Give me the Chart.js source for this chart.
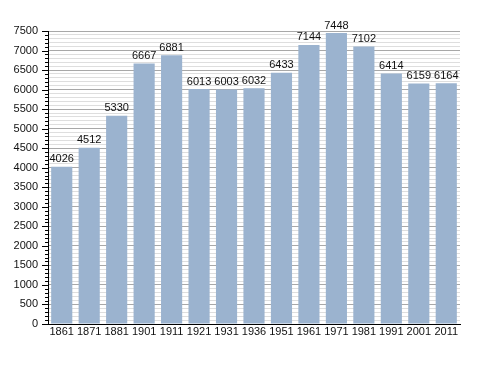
<!DOCTYPE html>
<html><head><meta charset="utf-8">
<script src="https://cdn.jsdelivr.net/npm/chart.js@4/dist/chart.umd.min.js"></script>
<style>html,body{margin:0;padding:0;background:#fff}#wrap{width:488px;height:373px}</style>
</head><body><div id="wrap"><canvas id="c" width="488" height="373"></canvas></div>
<script>
const years = ["1861","1871","1881","1901","1911","1921","1931","1936","1951","1961","1971","1981","1991","2001","2011"];
const population = [4026,4512,5330,6667,6881,6013,6003,6032,6433,7144,7448,7102,6414,6159,6164];
const yMin = 0, yMax = 7500, yMajorStep = 500, yMinorStep = 100;

const FONT = "'Liberation Sans', Arial, sans-serif";

const minorTicks = {
  id: 'minorTicks',
  afterDraw(chart) {
    const s = chart.scales.y, ctx = chart.ctx;
    ctx.save();
    ctx.strokeStyle = '#000'; ctx.lineWidth = 1;
    for (let v = yMin; v <= yMax; v += yMinorStep) {
      const y = Math.round(s.getPixelForValue(v)) + 0.5;
      const len = (v % yMajorStep === 0) ? 6 : 3;
      ctx.beginPath(); ctx.moveTo(s.right - len, y); ctx.lineTo(s.right, y); ctx.stroke();
    }
    ctx.restore();
  }
};

const barLabels = {
  id: 'barLabels',
  afterDatasetsDraw(chart) {
    const ctx = chart.ctx, meta = chart.getDatasetMeta(0);
    ctx.save();
    ctx.font = "11px " + FONT; ctx.fillStyle = '#111';
    ctx.textAlign = 'center'; ctx.textBaseline = 'bottom';
    meta.data.forEach((el, i) => {
      ctx.fillText(String(population[i]), el.x, el.y - 2);
    });
    ctx.restore();
  }
};

new Chart(document.getElementById('c'), {
  type: 'bar',
  data: { labels: years, datasets: [{ data: population, backgroundColor: '#9bb3cf', borderWidth: 0,
    barPercentage: 0.77, categoryPercentage: 1 }] },
  options: {
    responsive: false, animation: false,
    layout: { padding: { top: 31, right: 28, bottom: 29, left: 0 } },
    plugins: { legend: { display: false }, tooltip: { enabled: false } },
    scales: {
      x: {
        grid: { display: false, drawTicks: false, tickLength: 0 },
        border: { display: true, color: '#000', width: 1 },
        ticks: { color: '#111', font: { family: FONT, size: 11 }, padding: 1, maxRotation: 0, autoSkip: false },
        afterFit(s) { s.height = 20; }
      },
      y: {
        min: yMin, max: yMax,
        grid: {
          drawTicks: false,
          color: ctx => (ctx.tick && ctx.tick.value % yMajorStep === 0) ? '#a8a8a8' : '#dedede',
          lineWidth: 1
        },
        border: { display: true, color: '#000', width: 1 },
        ticks: {
          stepSize: yMinorStep, autoSkip: false, padding: 10,
          color: '#111', font: { family: FONT, size: 11 },
          callback: v => (v % yMajorStep === 0) ? String(v) : ''
        },
        afterFit(s) { s.width = 48; }
      }
    }
  },
  plugins: [minorTicks, barLabels]
});
</script></body></html>
